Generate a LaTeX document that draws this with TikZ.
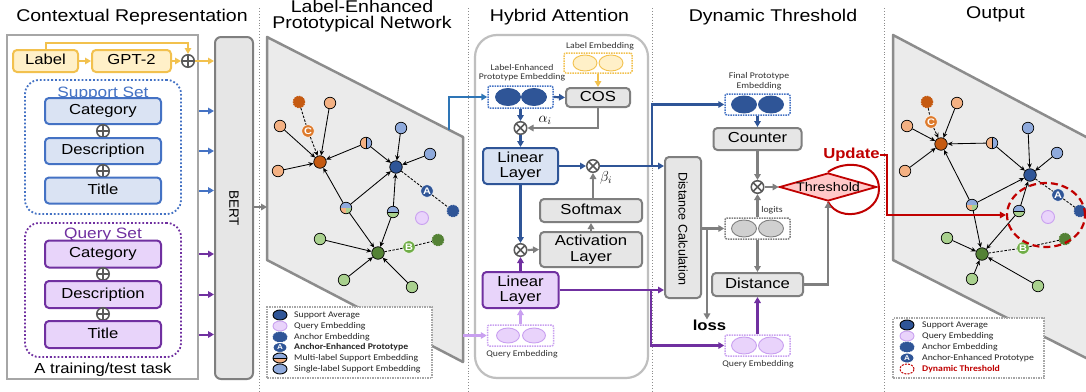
\documentclass[tikz,border=0pt]{standalone}
\usepackage{fontspec}
\setmainfont[FakeStretch=1.15]{Liberation Sans}
\newfontfamily\smallf[FakeStretch=1.12]{Carlito}
\newfontfamily\rotf{Liberation Sans}
\usetikzlibrary{arrows.meta,shapes.geometric}
\definecolor{yfill}{HTML}{FFF0C8}
\definecolor{ydraw}{HTML}{F2C14E}
\definecolor{bfill}{HTML}{DAE3F3}
\definecolor{bdraw}{HTML}{4472C4}
\definecolor{pfill}{HTML}{E8D4FA}
\definecolor{pdraw}{HTML}{7030A0}
\definecolor{gfill}{HTML}{E6E6E6}
\definecolor{gdraw}{HTML}{7F7F7F}
\definecolor{dblue}{HTML}{2F5597}
\definecolor{lblue}{HTML}{8FAADC}
\definecolor{dorange}{HTML}{C55A11}
\definecolor{corange}{HTML}{DD7A2C}
\definecolor{lorange}{HTML}{F4B183}
\definecolor{dgreen}{HTML}{548235}
\definecolor{mgreen}{HTML}{70AD47}
\definecolor{lgreen}{HTML}{A9D18E}
\definecolor{qfill}{HTML}{E9D3FB}
\definecolor{qdraw}{HTML}{C9A0F0}
\definecolor{tzfill}{HTML}{EBEBEB}
\definecolor{tzdraw}{HTML}{8C8C8C}
\definecolor{dred}{HTML}{C00000}
\definecolor{rfill}{HTML}{FFC9C9}
\definecolor{opgray}{HTML}{595959}
\definecolor{linkblue}{HTML}{2E75B6}
\definecolor{lgfill}{HTML}{D0D0D0}
\tikzset{
  sepline/.style={dotted, draw=black!45, line width=0.9pt},
  ttl/.style={font=\fontsize{17}{19}\selectfont, inner sep=0pt, anchor=base},
  bx/.style={rounded corners=4pt, line width=2pt, align=center, inner sep=0pt, font=\fontsize{14.5}{15.5}\selectfont},
  onel/.style={text height=10.4pt, text depth=3pt},
  ybox/.style={bx, onel, fill=yfill, draw=ydraw, minimum height=22pt},
  sbox/.style={bx, onel, fill=bfill, draw=bdraw, minimum width=116pt, minimum height=26pt},
  qbox/.style={bx, onel, fill=pfill, draw=pdraw, minimum width=116pt, minimum height=27pt},
  gbox/.style={bx, fill=gfill, draw=gdraw},
  setbox/.style={rounded corners=14pt, line width=1.8pt, dotted},
  opl/.style={circle, draw=opgray, fill=white, line width=1.5pt, minimum size=12.5pt, inner sep=0pt,
    path picture={\draw[opgray, line width=1.5pt] (path picture bounding box.north) -- (path picture bounding box.south) (path picture bounding box.west) -- (path picture bounding box.east);}},
  otm/.style={circle, draw=opgray, fill=white, line width=1.5pt, minimum size=12.5pt, inner sep=0pt,
    path picture={\draw[opgray, line width=1.5pt] (path picture bounding box.north west) -- (path picture bounding box.south east) (path picture bounding box.north east) -- (path picture bounding box.south west);}},
  tipa/.style={-{Triangle[length=6pt,width=6.5pt]}},
  yarr/.style={tipa, draw=ydraw, line width=2pt},
  sarr/.style={tipa, draw=bdraw, line width=2pt},
  barr/.style={tipa, draw=dblue, line width=2.2pt},
  lbarr/.style={tipa, draw=linkblue, line width=2.2pt},
  parr/.style={tipa, draw=pdraw, line width=2.2pt},
  lparr/.style={tipa, draw=qdraw, line width=2.2pt},
  garr/.style={tipa, draw=gdraw, line width=2.2pt},
  rarr/.style={tipa, draw=dred, line width=2.2pt},
  smallt/.style={font=\smallf\fontsize{8.7}{9.5}\selectfont, text=black!80, inner sep=0pt, align=center},
  embbox/.style={densely dotted, line width=1.5pt, rounded corners=2pt, inner sep=0pt, fill=white},
  emb/.style={ellipse, minimum width=24pt, minimum height=16pt, inner sep=0pt, line width=0.9pt},
  gn/.style={circle, draw=black, line width=0.7pt, minimum size=11.5pt, inner sep=0pt},
  lo/.style={gn, fill=lorange},
  lb/.style={gn, fill=lblue},
  lg/.style={gn, fill=lgreen},
  avgn/.style={gn, minimum size=12.5pt, fill=#1},
  anc/.style={circle, fill=#1, draw=#1, dash pattern=on 1.5pt off 1pt, line width=1pt, minimum size=11.5pt, inner sep=0pt},
  labn/.style={circle, fill=#1, draw=white, line width=0.5pt, minimum size=12.5pt, inner sep=0pt, text=white, font=\fontsize{9.5}{9.5}\selectfont\bfseries},
  qn/.style={circle, fill=qfill, draw=qdraw, line width=0.9pt, minimum size=13pt, inner sep=0pt},
  hob/.style={gn, path picture={\fill[lorange] (path picture bounding box.south west) rectangle (path picture bounding box.north); \fill[lblue] (path picture bounding box.south) rectangle (path picture bounding box.north east); \draw[line width=0.5pt] (path picture bounding box.south) -- (path picture bounding box.north);}},
  hbg/.style={gn, path picture={\fill[lblue] (path picture bounding box.north west) rectangle (path picture bounding box.east); \fill[lgreen] (path picture bounding box.west) rectangle (path picture bounding box.south east); \draw[line width=0.5pt] (path picture bounding box.west) -- (path picture bounding box.east);}},
  tri/.style={gn, path picture={\fill[lblue] (path picture bounding box.north west) rectangle (path picture bounding box.east); \fill[lorange] (path picture bounding box.west) rectangle (path picture bounding box.south); \fill[lgreen] (path picture bounding box.center) rectangle (path picture bounding box.south east);}},
  ge/.style={-{Stealth[length=5pt,width=4.5pt]}, line width=0.85pt, draw=black},
  gd/.style={dash pattern=on 2.5pt off 1.5pt, line width=0.85pt, draw=black},
  legbox/.style={densely dotted, draw=black!35, line width=1.5pt, fill=white, inner sep=0pt},
  icon/.style={ellipse, minimum width=14pt, minimum height=10pt, inner sep=0pt, line width=0.9pt},
  legt/.style={anchor=west, inner sep=0pt, font=\smallf\fontsize{8.7}{9.5}\selectfont, text=black!85},
}
\begin{document}
\begin{tikzpicture}[x=1pt,y=-1pt]
\useasboundingbox (0,0) rectangle (1086,391);
\clip (0,0) rectangle (1086,391);
\fill[white] (0,0) rectangle (1086,391);
% separators
\foreach \xx in {259,468,652,884} \draw[sepline] (\xx,8) -- (\xx,391);
% titles
\node[ttl] (t1) at (132,21) {Contextual Representation};
\node[ttl] (t2a) at (362,12.5) {Label-Enhanced};
\node[ttl] (t2b) at (362,28.5) {Prototypical Network};
\node[ttl] (t3) at (559.5,21) {Hybrid Attention};
\node[ttl] (t4) at (773,21) {Dynamic Threshold};
\node[ttl] (t5) at (995.5,18.5) {Output};

%% ---------- Panel 1 ----------
\node[draw=black!35, line width=2pt, minimum width=191pt, minimum height=344pt, inner sep=0pt] (frame) at (102.5,207) {};
\node[gbox, rounded corners=6pt, minimum width=38pt, minimum height=342pt] (bert) at (234,208) {};
\node[rotate=-90, font=\rotf\fontsize{13.5}{14}\selectfont, inner sep=0pt] (berttxt) at (234,208) {BERT};
\node[ybox, minimum width=65pt] (lab) at (45.5,61) {Label};
\node[ybox, minimum width=79pt] (gpt) at (131.5,61) {GPT-2};
\node[opl] (op0) at (188,61) {};
\draw[yarr] (lab.north) -- ++(0,-6) -| (op0.north);
\draw[yarr] (lab) -- (gpt);
\draw[yarr] (gpt) -- (op0);
\draw[yarr] (op0) -- (bert.west |- op0);

\node[setbox, draw=bdraw, minimum width=156pt, minimum height=134pt] (sset) at (103,147) {};
\node[anchor=base, inner sep=0pt, font=\fontsize{15}{15}\selectfont, text=bdraw] (ssl) at (103,97) {Support Set};
\node[sbox] (s1) at (103,111) {Category};
\node[opl] (sp1) at (103,131) {};
\node[sbox] (s2) at (103,151) {Description};
\node[opl] (sp2) at (103,171) {};
\node[sbox] (s3) at (103,190.5) {Title};

\node[setbox, draw=pdraw, minimum width=156pt, minimum height=134pt] (qset) at (103,290) {};
\node[anchor=base, inner sep=0pt, font=\fontsize{15}{15}\selectfont, text=pdraw] (qsl) at (103,238.5) {Query Set};
\node[qbox] (q1) at (103,254) {Category};
\node[opl] (qp1) at (103,274) {};
\node[qbox] (q2) at (103,294.5) {Description};
\node[opl] (qp2) at (103,314) {};
\node[qbox] (q3) at (103,334.5) {Title};
\node[anchor=base, inner sep=0pt, font=\fontsize{14.5}{15}\selectfont] (task) at (103,373) {A training/test task};

\foreach \nn in {s1,s2,s3} \draw[sarr] (frame.east |- \nn) -- (bert.west |- \nn);
\foreach \nn in {q1,q2,q3} \draw[parr, line width=2pt] (frame.east |- \nn) -- (bert.west |- \nn);

%% ---------- Panel 2 ----------
\filldraw[fill=tzfill, draw=tzdraw, line width=2.5pt, line join=round] (267,37) -- (463,137) -- (463,362) -- (267,260) -- cycle;
\coordinate (tzin) at (267,207);
\coordinate (tzA) at (449,130);
\coordinate (tzQ) at (463,335.5);
\draw[garr, line width=1.6pt] (bert.east |- tzin) -- (tzin);

\node[lo] (La1) at (330,103) {};
\node[lo] (La2) at (280,126) {};
\node[lo] (La3) at (278,171) {};
\node[anc=dorange] (Lac) at (299,102) {};
\node[labn=corange] (LC) at (308,131) {C};
\node[avgn=dorange] (Lo) at (320,162) {};
\node[hob] (Lm1) at (366,143) {};
\node[lb] (Lb1) at (401,128) {};
\node[lb] (Lb2) at (430,154) {};
\node[avgn=dblue] (Lb) at (396,167) {};
\node[labn=dblue] (LA) at (427,191) {A};
\node[anc=dblue] (Lab) at (453,211) {};
\node[qn] (Lq) at (422,218) {};
\node[tri] (Lm2) at (346,208) {};
\node[hbg] (Lm3) at (393,212) {};
\node[lg] (Lg1) at (320,239) {};
\node[avgn=dgreen] (Lg) at (378,253) {};
\node[labn=mgreen] (LB) at (409,247) {B};
\node[anc=dgreen] (Lag) at (438,240) {};
\node[lg] (Lg2) at (344,280) {};
\node[lg] (Lg3) at (412,287) {};
\foreach \aa/\bb in {La1/Lo,La2/Lo,La3/Lo,Lm1/Lo,Lm1/Lb,Lb1/Lb,Lb2/Lb,Lm2/Lo,Lm2/Lb,Lm2/Lg,Lm3/Lb,Lm3/Lg,Lg1/Lg,Lg2/Lg,Lg3/Lg}
  \draw[ge] (\aa) -- (\bb);
\draw[gd] (Lac) -- (LC);
\draw[gd, -{Stealth[length=5pt,width=4.5pt]}] (LC) -- (Lo);
\draw[gd] (Lb) -- (LA) -- (Lab);
\draw[gd] (Lg) -- (LB) -- (Lag);

% legend 1
\node[legbox, minimum width=165pt, minimum height=71pt] (leg1) at (349.5,342.5) {};
\node[icon, fill=dblue, draw=black] (k1i) at (280,315) {};
\node[legt] (k1t) at (294,315) {Support Average};
\node[icon, fill=qfill, draw=qdraw] (k2i) at (280,326) {};
\node[legt] (k2t) at (294,326) {Query Embedding};
\node[icon, fill=dblue, draw=dblue, dash pattern=on 1.5pt off 1pt] (k3i) at (280,337) {};
\node[legt] (k3t) at (294,337) {Anchor Embedding};
\node[icon, fill=dblue, draw=white, text=white, font=\fontsize{7}{7}\selectfont\bfseries] (k4i) at (280,347.5) {A};
\node[legt] (k4t) at (294,347.5) {\bfseries Anchor-Enhanced Prototype};
\node[icon, draw=black, path picture={\fill[lblue] (path picture bounding box.north west) rectangle (path picture bounding box.east); \fill[lorange] (path picture bounding box.west) rectangle (path picture bounding box.south east); \draw[line width=0.5pt] (path picture bounding box.west) -- (path picture bounding box.east);}] (k5i) at (280,358) {};
\node[legt] (k5t) at (294,358) {Multi-label Support Embedding};
\node[icon, fill=lblue, draw=black] (k6i) at (280,369) {};
\node[legt] (k6t) at (294,369) {Single-label Support Embedding};

%% ---------- Panel 3 ----------
\draw[line width=2.2pt, draw=black!25, rounded corners=22pt] (475,35) rectangle (648,378);
\node[smallt] (let) at (600,46) {Label Embedding};
\node[embbox, draw=ydraw, minimum width=68pt, minimum height=20pt] (leb) at (598,63) {};
\node[emb, fill=yfill, draw=ydraw] (le1) at (585,63) {};
\node[emb, fill=yfill, draw=ydraw] (le2) at (611,63) {};
\node[smallt] (lpet) at (522,72.5) {Label-Enhanced\\Prototype Embedding};
\node[embbox, draw=bdraw, minimum width=65pt, minimum height=22pt] (lpe) at (520.5,97) {};
\node[emb, fill=dblue, draw=dblue, minimum width=25pt, minimum height=17pt] (lp1) at (508,97) {};
\node[emb, fill=dblue, draw=dblue, minimum width=25pt, minimum height=17pt] (lp2) at (534,97) {};
\node[gbox, minimum width=64pt, minimum height=19pt, onel] (cos) at (598,97.5) {COS};
\node[otm] (oa) at (520.5,128) {};
\node[bx, fill=bfill, draw=dblue, minimum width=75pt, minimum height=36pt] (bl) at (520.5,166) {Linear\\Layer};
\node[otm] (ob) at (593,166) {};
\node[gbox, onel, minimum width=102pt, minimum height=23pt] (sm) at (591,210.5) {Softmax};
\node[gbox, minimum width=102pt, minimum height=35pt] (al) at (591,249.5) {Activation\\Layer};
\node[otm] (og) at (520.5,250) {};
\node[bx, fill=pfill, draw=pdraw, minimum width=76pt, minimum height=36pt] (pl) at (520.5,290) {Linear\\Layer};
\node[embbox, draw=qdraw, minimum width=66pt, minimum height=21pt] (qe1) at (520.5,335.5) {};
\node[emb, fill=qfill, draw=qdraw, minimum width=23pt, minimum height=15pt] (qa1) at (508,335.5) {};
\node[emb, fill=qfill, draw=qdraw, minimum width=23pt, minimum height=15pt] (qa2) at (534,335.5) {};
\node[smallt] (qe1t) at (522,354) {Query Embedding};
\node[inner sep=0pt, font=\fontsize{14}{14}\selectfont] (alab) at (545,120) {$\alpha_i$};
\node[inner sep=0pt, font=\fontsize{14}{14}\selectfont] (blab) at (606,178) {$\beta_i$};

\draw[lbarr] (tzA) |- (lpe.west);
\draw[yarr] (leb.south) -- (cos.north);
\draw[barr] (lpe.east) -- (cos.west);
\draw[barr] (lpe.south) -- (oa.north);
\draw[garr] (cos.south) |- (oa.east);
\draw[barr] (oa.south) -- (bl.north);
\draw[barr] (bl.east) -- (ob.west);
\draw[garr] (ob |- sm.north) -- (ob.south);
\draw[garr] (al.north) -- (sm.south);
\draw[barr] (bl.south) -- (og.north);
\draw[parr] (pl.north) -- (og.south);
\draw[garr] (og.east) -- (al.west);
\draw[lparr] (qe1.north) -- (pl.south);
\draw[lparr] (tzQ) -- (qe1.west);

%% ---------- Panel 4 ----------
\node[gbox, minimum width=36pt, minimum height=141pt] (dcalc) at (683,227.5) {};
\node[rotate=-90, inner sep=0pt, font=\rotf\fontsize{12.5}{13}\selectfont] (dcalct) at (683,229) {Distance Calculation};
\node[smallt] (fpet) at (759,81) {Final Prototype\\Embedding};
\node[embbox, draw=bdraw, minimum width=65pt, minimum height=21pt] (fpe) at (757.5,104.5) {};
\node[emb, fill=dblue, draw=dblue, minimum width=25pt, minimum height=17pt] (fp1) at (744,104.5) {};
\node[emb, fill=dblue, draw=dblue, minimum width=25pt, minimum height=17pt] (fp2) at (771,104.5) {};
\node[gbox, onel, minimum width=88pt, minimum height=22pt] (counter) at (757.5,139) {Counter};
\node[otm] (od) at (757.5,187) {};
\node[diamond, draw=dred, fill=rfill, line width=1.8pt, minimum width=97pt, minimum height=28pt, inner sep=0pt] (thr) at (828,187) {};
\node[inner sep=0pt, font=\fontsize{12.5}{13}\selectfont] (thrt) at (828,187.5) {Threshold};
\draw[dred, line width=2pt] (thr.north) .. controls (845,159) and (879,163) .. (879,189) .. controls (879,214) and (840,224) .. (thr.south);
\node[inner sep=0pt, text=dred, font=\fontsize{14.5}{15}\selectfont\bfseries] (upd) at (851.5,155) {Update};
\node[smallt] (logt) at (772,210) {logits};
\node[embbox, draw=gdraw, minimum width=65pt, minimum height=21pt] (logits) at (757.5,228.5) {};
\node[emb, fill=lgfill, draw=gdraw, minimum width=25pt, minimum height=17pt] (lg1) at (744,228.5) {};
\node[emb, fill=lgfill, draw=gdraw, minimum width=25pt, minimum height=17pt] (lg2) at (771,228.5) {};
\node[gbox, onel, minimum width=91pt, minimum height=23pt] (dist) at (757.5,284.5) {Distance};
\node[inner sep=0pt, font=\fontsize{14.5}{15}\selectfont\bfseries] (loss) at (709.5,325) {loss};
\node[embbox, draw=qdraw, minimum width=65pt, minimum height=21pt] (qe2) at (757.5,345.5) {};
\node[emb, fill=qfill, draw=qdraw, minimum width=25pt, minimum height=17pt] (qb1) at (744,345.5) {};
\node[emb, fill=qfill, draw=qdraw, minimum width=25pt, minimum height=17pt] (qb2) at (771,345.5) {};
\node[smallt] (qe2t) at (758,364) {Query Embedding};

\coordinate (bj) at (652,166);
\coordinate (pj) at (651,290);
\coordinate (lj) at (707,228.5);
\draw[barr] (ob.east) -- (dcalc.west |- ob);
\draw[barr] (bj) |- (fpe.west);
\draw[parr] (pl.east) -- (dcalc.west |- pl);
\draw[parr] (pj) |- (qe2.west);
\draw[barr] (fpe.south) -- (counter.north);
\draw[garr] (counter.south) -- (od.north);
\draw[garr] (od.east) -- (thr.west);
\draw[garr] (dcalc.east |- logits) -- (logits.west);
\draw[garr] (lj) -- (lj |- loss.north);
\draw[garr] (logits.north) -- (od.south);
\draw[garr] (logits.south) -- (dist.north);
\draw[garr] (dist.east) -| (thr.south);
\draw[parr] (qe2.north) -- (dist.south);

%% ---------- Panel 5 ----------
\fill[tzfill] (893,35) -- (1090,139) -- (1090,360) -- (893,260) -- cycle;
\draw[tzdraw, line width=2.5pt, line join=round] (1090,139) -- (893,35) -- (893,260) -- (1090,360);
\node[lo] (Ra1) at (957,103) {};
\node[lo] (Ra2) at (907,126) {};
\node[lo] (Ra3) at (905,171) {};
\node[anc=dorange] (Rac) at (927,102) {};
\node[labn=corange] (RC) at (931,122) {C};
\node[avgn=dorange] (Ro) at (941,144) {};
\node[hob] (Rm1) at (992,143) {};
\node[lb] (Rb1) at (1028,128) {};
\node[lb] (Rb2) at (1057,153) {};
\node[avgn=dblue] (Rb) at (1030,175) {};
\node[labn=dblue] (RA) at (1058,195) {A};
\node[anc=dblue] (Rab) at (1080,211) {};
\node[qn] (Rq) at (1048,217) {};
\node[tri] (Rm2) at (972,205) {};
\node[hbg] (Rm3) at (1019,211) {};
\node[lg] (Rg1) at (947,238) {};
\node[avgn=dgreen] (Rg) at (982,254) {};
\node[labn=mgreen] (RB) at (1023,248) {B};
\node[anc=dgreen] (Rag) at (1065,239) {};
\node[lg] (Rg2) at (972,279) {};
\node[lg] (Rg3) at (1038,286) {};
\foreach \aa/\bb in {Ra1/Ro,Ra2/Ro,Ra3/Ro,Rm1/Ro,Rm1/Rb,Rb1/Rb,Rb2/Rb,Rm2/Ro,Rm2/Rb,Rm2/Rg,Rm3/Rb,Rm3/Rg,Rg1/Rg,Rg2/Rg,Rg3/Rg}
  \draw[ge] (\aa) -- (\bb);
\draw[gd] (Rac) -- (RC);
\draw[gd, -{Stealth[length=5pt,width=4.5pt]}] (RC) -- (Ro);
\draw[gd] (Rb) -- (RA) -- (Rab);
\draw[gd] (Rg) -- (RB) -- (Rag);
\node[ellipse, draw=dred, dash pattern=on 7pt off 4pt, line width=2.2pt, minimum width=78pt, minimum height=64pt, inner sep=0pt] (dthr) at (1046,215) {};
\draw[rarr] (upd.east) -- ++(7,0) |- (dthr.west);

% legend 2
\node[legbox, minimum width=151pt, minimum height=60pt] (leg2) at (968.5,348) {};
\node[icon, fill=dblue, draw=black] (m1i) at (907,325) {};
\node[legt] (m1t) at (922,325) {Support Average};
\node[icon, fill=qfill, draw=qdraw] (m2i) at (907,336) {};
\node[legt] (m2t) at (922,336) {Query Embedding};
\node[icon, fill=dblue, draw=dblue, dash pattern=on 1.5pt off 1pt] (m3i) at (907,347) {};
\node[legt] (m3t) at (922,347) {Anchor Embedding};
\node[icon, fill=dblue, draw=white, text=white, font=\fontsize{7}{7}\selectfont\bfseries] (m4i) at (907,358) {A};
\node[legt] (m4t) at (922,358) {Anchor-Enhanced Prototype};
\node[icon, fill=white, draw=dred, dash pattern=on 2pt off 1.2pt, line width=1pt] (m5i) at (907,369) {};
\node[legt, text=dred] (m5t) at (922,369) {\bfseries Dynamic Threshold};
\end{tikzpicture}
\end{document}
